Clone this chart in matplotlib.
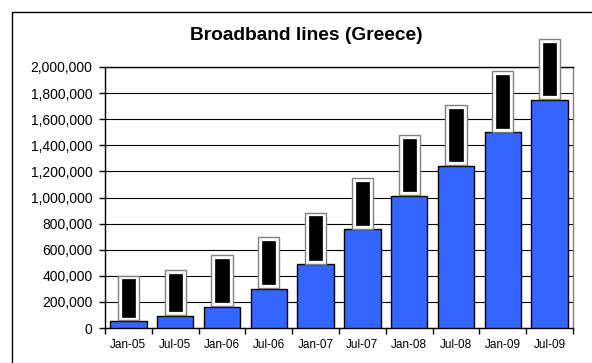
import matplotlib.pyplot as plt
from matplotlib.patches import Rectangle
import numpy as np

plt.rcParams['font.family'] = ['Liberation Sans', 'DejaVu Sans']

periods = ['Jan-05', 'Jul-05', 'Jan-06', 'Jul-06', 'Jan-07',
           'Jul-07', 'Jan-08', 'Jul-08', 'Jan-09', 'Jul-09']
lines = [53000, 92000, 163000, 300000, 488000,
         756000, 1014000, 1244000, 1500000, 1749000]
y_ticks = np.arange(0, 2000001, 200000)

fig = plt.figure(figsize=(5.92, 3.63), dpi=100)
ax = fig.add_axes([105/592, 1-328/363, 468/592, 261/363])

# outer chart frame (runs off right/bottom edge)
fig.patches.append(Rectangle((12/592, -0.1), 1.0, 1-12/363+0.1, transform=fig.transFigure,
                             fill=False, edgecolor='black', linewidth=1.0))

x = np.arange(len(periods))
ax.bar(x, lines, width=0.78, color='#3366FF', edgecolor='black', linewidth=1.0, zorder=3)

# data labels (blacked out boxes)
for xi, v in zip(x, lines):
    s = '{:,}'.format(v)
    ax.annotate(s, (xi, v), xytext=(0, 4.5), textcoords='offset points',
                rotation=90, ha='center', va='bottom', fontsize=8, color='black',
                bbox=dict(boxstyle='square,pad=0.5', facecolor='white', edgecolor='#808080', linewidth=1.0),
                annotation_clip=False, zorder=4)
    ax.annotate(s, (xi, v), xytext=(0, 4.5), textcoords='offset points',
                rotation=90, ha='center', va='bottom', fontsize=8, color='black',
                bbox=dict(boxstyle='square,pad=0.15', facecolor='black', edgecolor='black', linewidth=0.5),
                annotation_clip=False, zorder=5)

ax.set_xlim(-0.5, len(periods) - 0.5)
ax.set_ylim(0, 2000000)
ax.set_yticks(y_ticks)
ax.set_yticklabels(['{:,}'.format(t) for t in y_ticks], fontsize=10)
ax.yaxis.grid(True, color='black', linewidth=0.8, zorder=0)
ax.set_axisbelow(True)

ax.set_xticks(x)
ax.set_xticklabels(periods, fontsize=8.5)
ax.set_xticks(np.arange(-0.5, len(periods)), minor=True)
ax.tick_params(axis='x', which='major', length=0, pad=8)
ax.tick_params(axis='x', which='minor', length=4, width=1, direction='out')
ax.tick_params(axis='y', length=4, width=1, direction='out', pad=5)

ax.spines['left'].set_color('black')
ax.spines['bottom'].set_color('black')
ax.spines['top'].set_color('black')
ax.spines['right'].set_color('#808080')
for sp in ax.spines.values():
    sp.set_linewidth(1.0)

fig.text(306/592, 1-36/363, 'Broadband lines (Greece)', ha='center', va='center',
         fontsize=13.8, fontweight='bold')

fig.savefig('out.png', dpi=100)
